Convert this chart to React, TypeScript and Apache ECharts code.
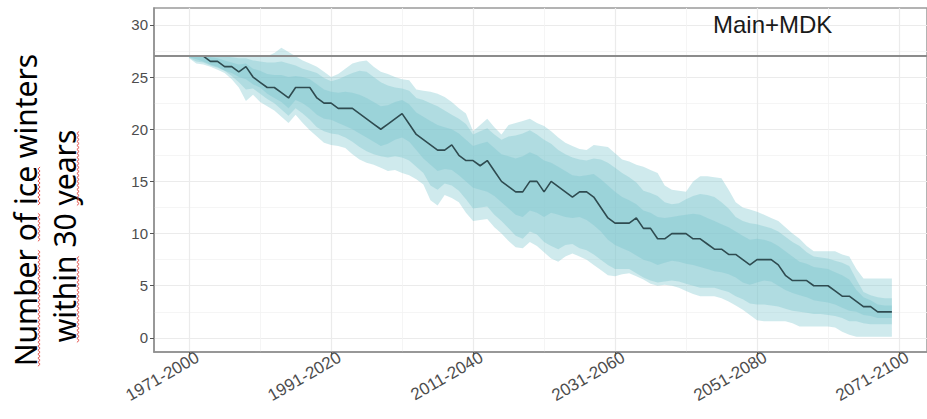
import React, { useEffect, useRef } from "react";
import * as echarts from "echarts";

// x index 0..99 = 30-year windows 1971-2000 ... 2070-2099
const xTickValues = [0, 20, 40, 60, 80, 100];
const xTickLabels = ["1971-2000", "1991-2020", "2011-2040", "2031-2060", "2051-2080", "2071-2100"];
const xMinorValues = [10, 30, 50, 70, 90];
const yTickValues = [0, 5, 10, 15, 20, 25, 30];
const yMinorValues = [2.5, 7.5, 12.5, 17.5, 22.5, 27.5];
const referenceLevel = 27;

const median = [
  27, 27, 27, 26.5, 26.5, 26, 26, 25.5, 26, 25,
  24.5, 24, 24, 23.5, 23, 24, 24, 24, 23, 22.5,
  22.5, 22, 22, 22, 21.5, 21, 20.5, 20, 20.5, 21,
  21.5, 20.5, 19.5, 19, 18.5, 18, 18, 18.5, 17.5, 17,
  17, 16.5, 17, 16, 15, 14.5, 14, 14, 15, 15,
  14, 15, 14.5, 14, 13.5, 14, 14, 13.5, 12.5, 11.5,
  11, 11, 11, 11.5, 10.5, 10.5, 9.5, 9.5, 10, 10,
  10, 9.5, 9.5, 9, 8.5, 8.5, 8, 8, 7.5, 7,
  7.5, 7.5, 7.5, 7, 6, 5.5, 5.5, 5.5, 5, 5,
  5, 4.5, 4, 4, 3.5, 3, 3, 2.5, 2.5, 2.5,
];

const outerUpper = [
  27, 27, 27, 27, 27, 27, 27, 27, 27, 27,
  27, 27, 27.3, 27.8, 27.4, 27, 26.6, 26.3, 26, 25.5,
  25, 25.3, 25.8, 26.3, 26.5, 26.6, 26, 25.5, 25.3, 25,
  24.8, 24.7, 23.8, 23.7, 23.6, 23.4, 23.1, 22.6, 22, 21.5,
  19.8, 20.4, 21, 20.2, 19.5, 20.4, 20.6, 20.8, 21, 20.6,
  20.3, 19.8, 19.2, 18.7, 18.4, 18.1, 18, 18.5, 18.4, 18.3,
  17.7, 17.1, 16.9, 16.6, 16.4, 16.1, 15.8, 14.6, 14.2, 14.1,
  14, 15, 15.5, 15.5, 15.4, 15.3, 14.2, 13, 12.5, 12.3,
  12.1, 11.8, 11.5, 11.2, 10.6, 10, 9.5, 8.8, 8.3, 8.3,
  8.3, 8.3, 8, 7.8, 6.6, 5.7, 5.7, 5.7, 5.7, 5.7,
];

const outerLower = [
  26.8, 26.3, 26.2, 26, 25.7, 25.4, 24.8, 24, 22.7, 23.3,
  22.6, 22.2, 21.8, 21.2, 20.6, 21.4, 20.6, 19.9, 19.3, 18.7,
  18.5, 18.4, 18.2, 17.6, 17.1, 16.8, 16.6, 16.3, 16, 16.1,
  15.8, 15.6, 15.2, 14.7, 13.2, 12.7, 13.7, 13.4, 13, 12,
  11.2, 11.3, 11.4, 10.6, 10, 9.3, 8.7, 8.6, 9.2, 8.8,
  8.2, 7.6, 7.3, 7.8, 8.1, 7.8, 7.5, 7, 6.5, 6,
  5.9, 6.1, 6.2, 5.9, 5.6, 5.2, 5, 5.1, 5, 4.8,
  4.5, 4.2, 4, 4, 4, 3.8, 3.5, 3.1, 2.7, 2.2,
  1.7, 1.6, 1.6, 1.6, 1.6, 1.4, 1.1, 1.1, 1.1, 1.1,
  1.1, 1, 0.6, 0.3, 0.1, 0.1, 0.1, 0.1, 0.1, 0.1,
];

const midUpper = [
  27, 27, 27, 27, 27, 27, 26.9, 26.8, 26.8, 26.6,
  26.5, 26.4, 26.4, 26.5, 26.3, 26.1, 25.8, 25.6, 25.4, 24.9,
  24.6, 24.8, 25.1, 25.4, 25.6, 25.5, 25, 24.5, 24.2, 24,
  23.9, 23.7, 23, 22.8, 22.5, 22.2, 21.8, 21.4, 21, 20.5,
  19.5, 19.8, 20.1, 19.5, 19, 19.3, 19.4, 19.6, 19.9, 19.5,
  19, 18.6, 18, 17.6, 17.3, 17.1, 17, 17.2, 17.1, 16.8,
  16.3, 15.8, 15.4, 14.9, 14.1, 13.9, 13.6, 13, 12.8, 12.9,
  13.3, 13.6, 13.8, 13.7, 13.5, 13, 12.4, 11.6, 11.2, 11,
  10.9, 10.7, 10.5, 10.2, 9.7, 9.2, 8.8, 8.2, 7.8, 7.7,
  7.6, 7.4, 7.2, 6.9, 5.6, 4.4, 4.1, 3.9, 3.8, 3.8,
];

const innerUpper = [
  27, 27, 27, 26.9, 26.8, 26.6, 26.4, 26.2, 26.3, 25.8,
  25.6, 25.3, 25.2, 25.2, 25, 25.1, 25, 24.8, 24.3, 23.8,
  23.6, 23.5, 23.6, 23.5, 23.3, 23, 22.6, 22.2, 22.3, 22.6,
  22.8, 22.4, 21.6, 21.2, 20.8, 20.4, 20.2, 20, 19.6, 19,
  18.4, 18.6, 18.8, 18.2, 17.6, 17.4, 17.2, 17.4, 17.8, 17.5,
  17, 16.8, 16.4, 16, 15.6, 15.5, 15.6, 15.7, 15.2, 14.6,
  14, 13.5, 13.2, 12.8, 12.2, 12, 11.6, 11.5, 11.6, 11.7,
  11.8, 11.9, 11.8, 11.5, 11.2, 10.9, 10.6, 10.2, 9.8, 9.4,
  9.5, 9.4, 9.2, 8.8, 8.3, 7.8, 7.3, 7.1, 6.8, 6.7,
  6.6, 6.3, 6, 5.6, 4.6, 3.9, 3.6, 3.2, 3.1, 3.1,
];

const innerLower = [
  26.9, 26.7, 26.5, 26.2, 26, 25.6, 25.4, 25, 24.8, 24.3,
  24, 23.4, 23, 22.6, 22, 22.8, 22.5, 22, 21.4, 21,
  20.9, 20.6, 20.3, 20, 19.6, 19.2, 18.8, 18.4, 18.6, 19,
  19.2, 18.8, 18, 17.2, 16.6, 16, 16.2, 16.1, 15.6, 15,
  14.4, 14.2, 14, 13.6, 13, 12.4, 11.8, 11.6, 12.2, 12,
  11.6, 12, 11.8, 11.6, 11.5, 11.6, 11.3, 10.8, 10.2, 9.4,
  8.9, 8.6, 8.3, 7.9, 7.5, 7.3, 7, 7.2, 7.4, 7.3,
  7.1, 7, 6.8, 6.6, 6.4, 6.3, 6.1, 5.8, 5.3, 5.1,
  5.3, 5.5, 5.4, 5, 4.6, 4.3, 4.1, 3.9, 3.6, 3.5,
  3.4, 3.2, 2.9, 2.6, 2.5, 2.2, 2.1, 1.9, 1.9, 1.9,
];

const midLower = [
  26.85, 26.5, 26.4, 26.1, 25.9, 25.6, 25.1, 24.5, 23.8, 23.9,
  23.4, 22.9, 22.5, 21.9, 21.3, 22, 21.5, 20.9, 20.2, 19.8,
  19.6, 19.5, 19.2, 18.8, 18.3, 17.9, 17.6, 17.4, 17.3, 17.4,
  17.3, 17, 16.4, 15.8, 14.6, 14.2, 14.8, 14.6, 14.1, 13.3,
  12.4, 12.5, 12.6, 11.8, 11.2, 10.5, 9.8, 9.5, 10.2, 9.9,
  9.2, 8.8, 8.5, 8.9, 9, 8.6, 8.4, 8, 7.5, 7,
  6.6, 6.6, 6.6, 6.2, 5.8, 5.5, 5.3, 5.4, 5.5, 5.4,
  5.2, 5, 4.8, 4.8, 4.8, 4.6, 4.4, 4, 3.7, 3.3,
  3.2, 3.2, 3.1, 3, 2.8, 2.6, 2.5, 2.4, 2.3, 2.3,
  2.2, 2.1, 1.9, 1.6, 1.6, 1.4, 1.3, 1.3, 1.3, 1.3,
];

const bands = [
  { lower: outerLower, upper: outerUpper, fill: "rgba(130, 200, 208, 0.38)" },
  { lower: midLower, upper: midUpper, fill: "rgba(130, 200, 208, 0.40)" },
  { lower: innerLower, upper: innerUpper, fill: "rgba(130, 200, 208, 0.45)" },
];

const yTitleLines = [
  { text: "Number of ice winters", cx: 25, cy: 210, flagged: ["Number", "of", "ice"] },
  { text: "within 30 years", cx: 64, cy: 236, flagged: ["within", "years"] },
];

const titleFont = '30px "Noto Sans"';

function measure(txt: string, font: string): number {
  const ctx = document.createElement("canvas").getContext("2d");
  if (!ctx) return txt.length * 15;
  ctx.font = font;
  return ctx.measureText(txt).width;
}

function squiggles(): any[] {
  const out: any[] = [];
  yTitleLines.forEach((ln) => {
    const W = measure(ln.text, titleFont);
    const yStart = ln.cy + W / 2;
    const bx = ln.cx + 14;
    let searchFrom = 0;
    ln.flagged.forEach((w) => {
      const k = ln.text.indexOf(w, searchFrom);
      searchFrom = k + w.length;
      const s0 = measure(ln.text.slice(0, k), titleFont);
      const s1 = s0 + measure(w, titleFont);
      const pts: number[][] = [];
      let t = 0;
      for (let s = s0; s <= s1; s += 2) {
        pts.push([bx + (t % 2 === 0 ? -1.1 : 1.1), yStart - s]);
        t++;
      }
      out.push({
        type: "polyline",
        silent: true,
        z: 11,
        shape: { points: pts },
        style: { stroke: "#e0403a", fill: null, lineWidth: 0.9 },
      });
    });
  });
  return out;
}

export default function App() {
  const ref = useRef<HTMLDivElement>(null);

  useEffect(() => {
    if (!ref.current) return;
    const chart = echarts.init(ref.current, null, { renderer: "svg" });
    const pts = (a: number[]) => a.map((v, i) => [i, v]);
    const labelShift = 1.2;

    const option: any = {
      animation: false,
      grid: {
        left: 154,
        top: 8,
        width: 777,
        height: 344,
        show: true,
        borderColor: "#9a9a9a",
        borderWidth: 1.5,
        backgroundColor: "#ffffff",
      },
      xAxis: [
        {
          type: "value",
          min: -4.95,
          max: 103.95,
          axisLine: { show: true, onZero: false, lineStyle: { color: "#8f8f8f", width: 1.5 } },
          axisTick: { show: true, length: 4, customValues: xTickValues, lineStyle: { color: "#555", width: 1 } },
          axisLabel: {
            customValues: xTickValues.map((v) => v + labelShift),
            rotate: 30,
            margin: 4,
            color: "#4d4d4d",
            fontSize: 17,
            fontFamily: "Liberation Sans, Arial, sans-serif",
            formatter: (v: number) => {
              const k = xTickValues.indexOf(Math.round(v - labelShift));
              return k >= 0 ? xTickLabels[k] : "";
            },
          },
          splitLine: { show: true, lineStyle: { color: "#ebebeb", width: 1.2 } },
        },
        {
          type: "value",
          min: -4.95,
          max: 103.95,
          position: "bottom",
          axisLine: { show: false },
          axisTick: { show: false, customValues: xMinorValues },
          axisLabel: { show: false, customValues: xMinorValues },
          splitLine: { show: true, lineStyle: { color: "#f2f2f2", width: 0.8 } },
        },
      ],
      yAxis: [
        {
          type: "value",
          min: -1.35,
          max: 31.62,
          axisLine: { show: true, onZero: false, lineStyle: { color: "#8f8f8f", width: 1.5 } },
          axisTick: { show: true, length: 4, customValues: yTickValues, lineStyle: { color: "#555", width: 1 } },
          axisLabel: {
            customValues: yTickValues,
            margin: 6,
            color: "#4d4d4d",
            fontSize: 15,
            fontFamily: "Liberation Sans, Arial, sans-serif",
          },
          splitLine: { show: true, lineStyle: { color: "#ebebeb", width: 1.2 } },
        },
        {
          type: "value",
          min: -1.35,
          max: 31.62,
          position: "left",
          axisLine: { show: false },
          axisTick: { show: false, customValues: yMinorValues },
          axisLabel: { show: false, customValues: yMinorValues },
          splitLine: { show: true, lineStyle: { color: "#f2f2f2", width: 0.8 } },
        },
      ],
      series: [
        {
          name: "ribbons",
          type: "custom",
          xAxisIndex: 0,
          yAxisIndex: 0,
          silent: true,
          z: 2,
          data: bands.map((_, k) => [k, 0]),
          encode: { x: 0, y: 1 },
          renderItem: (params: any, api: any) => {
            const b = bands[params.dataIndex];
            const top = b.upper.map((v, i) => api.coord([i, v]));
            const bottom = b.lower.map((v, i) => api.coord([i, v])).reverse();
            return {
              type: "polygon",
              shape: { points: top.concat(bottom) },
              style: { fill: b.fill, stroke: null },
            };
          },
        },
        {
          name: "median",
          type: "line",
          data: pts(median),
          symbol: "none",
          lineStyle: { color: "#2f4b50", width: 1.6 },
          z: 4,
          markLine: {
            silent: true,
            symbol: ["none", "none"],
            label: { show: false },
            lineStyle: { color: "#8c8c8c", width: 2, type: "solid" },
            data: [{ yAxis: referenceLevel }],
            z: 5,
          },
        },
      ],
      graphic: [
        {
          type: "text",
          left: 713,
          top: 12,
          style: {
            text: "Main+MDK",
            fill: "#1a1a1a",
            fontSize: 24,
            fontFamily: "Liberation Sans, Arial, sans-serif",
          },
          z: 10,
        },
        ...yTitleLines.map((ln) => ({
          type: "text",
          x: ln.cx,
          y: ln.cy,
          rotation: Math.PI / 2,
          z: 10,
          style: {
            text: ln.text,
            fill: "#000000",
            font: titleFont,
            align: "center",
            verticalAlign: "middle",
          },
        })),
        ...squiggles(),
      ],
    };

    chart.setOption(option);
    return () => chart.dispose();
  }, []);

  return <div ref={ref} style={{ position: "absolute", left: 0, top: 0, width: 927, height: 419 }} />;
}
